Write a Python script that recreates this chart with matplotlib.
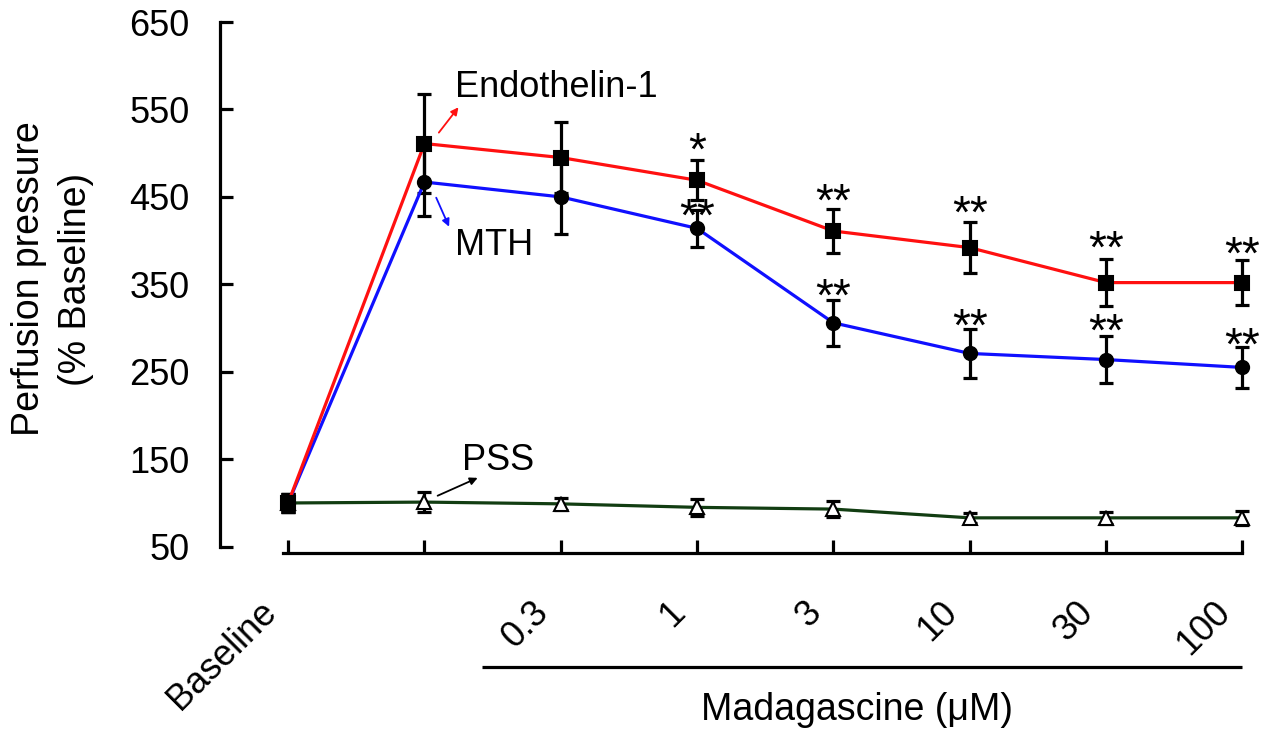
import matplotlib
matplotlib.use("Agg")
import matplotlib.pyplot as plt
import matplotlib.transforms as mtransforms
from matplotlib.lines import Line2D

plt.rcParams['font.family'] = ['Liberation Sans', 'DejaVu Sans']

# ---- data ----
x_labels = ['Baseline', '', '0.3', '1', '3', '10', '30', '100']
et = [100, 511, 495, 469, 411, 392, 352, 352]
et_err = [10, 57, 41, 23, 25, 29, 27, 26]
mth = [100, 467, 450, 414, 306, 271, 264, 255]
mth_err = [10, 39, 42, 21, 26, 28, 27, 23]
pss = [100, 101, 99, 95, 93, 83, 83, 83]
pss_err = [10, 11, 7, 10, 9, 6, 7, 8]
y_ticks = [50, 150, 250, 350, 450, 550, 650]

# significance marks: (x index, baseline y, text)
stars_et = [(3, 487, '*'), (4, 428, '**'), (5, 415, '**'), (6, 375, '**'), (7, 368, '**')]
stars_mth = [(3, 411, '**'), (4, 320, '**'), (5, 286, '**'), (6, 280, '**'), (7, 264, '**')]

RED = '#ff1010'
BLUE = '#1010ff'
GREEN = '#123d12'
FS = 26
LW = 2.3

fig = plt.figure(figsize=(12.67, 7.35), dpi=100)
ax = fig.add_axes([220 / 1267, 1 - 546.7 / 735, 1029.1 / 1267, 524.7 / 735])
xs = list(range(len(x_labels)))

def series(vals, errs, color, marker, mfc, ms):
    ax.errorbar(xs, vals, yerr=errs, fmt='none', ecolor='black', elinewidth=LW,
                capsize=4.8, capthick=LW, zorder=2, clip_on=False)
    ax.plot(xs, vals, color=color, lw=LW, zorder=3, clip_on=False)
    ax.plot(xs, vals, linestyle='none', marker=marker, mfc=mfc, mec='black',
            mew=1.5, ms=ms, zorder=4, clip_on=False)

series(pss, pss_err, GREEN, '^', 'white', 10.5)
series(mth, mth_err, BLUE, 'o', 'black', 9.5)
series(et, et_err, RED, 's', 'black', 9.5)

for x, y, t in stars_et + stars_mth:
    ax.text(x, y, t, ha='center', va='baseline', fontsize=33, zorder=5)

# axes styling
ax.set_xlim(-0.5, 7.05)
ax.set_ylim(50, 650)
for s in ['top', 'right']:
    ax.spines[s].set_visible(False)
ax.spines['left'].set_linewidth(LW)
ax.spines['bottom'].set_linewidth(LW)
ax.spines['left'].set_bounds(50, 650)
ax.spines['bottom'].set_bounds(-0.04, 7)
ax.spines['bottom'].set_position(('outward', 4.3))

ax.set_yticks(y_ticks)
ax.set_yticklabels([str(v) for v in y_ticks])
ax.set_xticks(xs)
ax.set_xticklabels(x_labels, rotation=45, ha='right', va='top', rotation_mode='anchor')
ax.tick_params(axis='y', direction='in', length=9.4, width=LW, labelsize=FS, pad=22)
ax.tick_params(axis='x', direction='in', length=9.4, width=LW, labelsize=FS, pad=30)
off = mtransforms.ScaledTranslation(-30 / 100, 0, fig.dpi_scale_trans)
for lab in ax.get_xticklabels():
    lab.set_transform(lab.get_transform() + off)

ax.set_ylabel('Perfusion pressure\n(% Baseline)', fontsize=27, linespacing=1.4)
ax.yaxis.set_label_coords(-0.1225, 0.51)

# series labels with arrows
ax.text(1.225, 564, 'Endothelin-1', fontsize=FS, ha='left', va='baseline')
ax.annotate('', xy=(1.262, 555), xytext=(1.093, 521),
            arrowprops=dict(arrowstyle='-|>', color=RED, lw=1.3, mutation_scale=11))
ax.text(1.225, 384, 'MTH', fontsize=FS, ha='left', va='baseline')
ax.annotate('', xy=(1.189, 413), xytext=(1.078, 452),
            arrowprops=dict(arrowstyle='-|>', color=BLUE, lw=1.3, mutation_scale=11))
ax.text(1.277, 138, 'PSS', fontsize=FS, ha='left', va='baseline')
ax.annotate('', xy=(1.409, 130), xytext=(1.078, 107),
            arrowprops=dict(arrowstyle='-|>', color='black', lw=1.3, mutation_scale=11))

# concentration bracket + label
trans = mtransforms.blended_transform_factory(ax.transData, fig.transFigure)
fig.add_artist(Line2D([1.423, 7.0], [1 - 667 / 735, 1 - 667 / 735], transform=trans,
                      color='black', lw=LW, solid_capstyle='butt'))
fig.text(857 / 1267, 1 - 720 / 735, 'Madagascine (μM)', fontsize=27,
         ha='center', va='baseline')

fig.savefig('out.png', dpi=100)
